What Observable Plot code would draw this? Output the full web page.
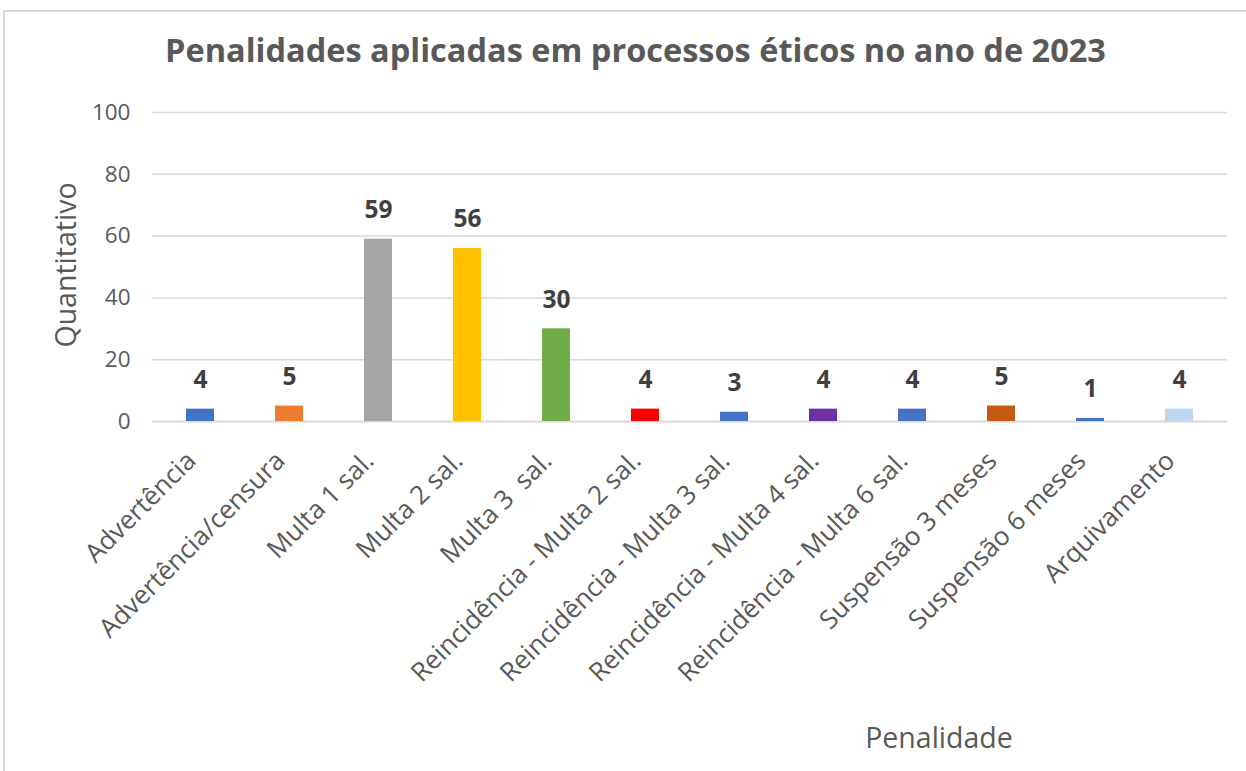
<!DOCTYPE html>
<html><head><meta charset="utf-8">
<script src="https://cdn.jsdelivr.net/npm/d3@7"></script>
<script src="https://cdn.jsdelivr.net/npm/@observablehq/plot@0.6"></script>
<style>
body{margin:0;background:#fff;font-family:"Open Sans",sans-serif;}
#wrap{position:relative;width:1246px;height:771px;overflow:hidden;background:#fff;}
#frame{position:absolute;left:3px;top:10px;width:1300px;height:800px;border-top:2px solid #d9d9d9;border-left:2px solid #d9d9d9;}
#title{position:absolute;left:0;top:28px;width:1271px;text-align:center;font-weight:700;font-size:32.5px;line-height:44px;color:#595959;}
#chart{position:absolute;left:0;top:85px;}
#ylab{position:absolute;left:65px;top:265px;transform:translate(-50%,-50%) rotate(-90deg);font-size:28.5px;color:#595959;white-space:nowrap;}
#xlab{position:absolute;left:939px;top:737px;transform:translate(-50%,-50%);font-size:28.5px;color:#595959;white-space:nowrap;}
svg text{white-space:pre;}
</style></head>
<body>
<div id="wrap">
<div id="frame"></div>
<div id="title">Penalidades aplicadas em processos éticos no ano de 2023</div>
<div id="chart"></div>
<div id="ylab">Quantitativo</div>
<div id="xlab">Penalidade</div>
</div>
<script>
const categories = ["Advertência","Advertência/censura","Multa 1 sal.","Multa 2 sal.","Multa 3  sal.","Reincidência - Multa 2 sal.","Reincidência - Multa 3 sal.","Reincidência - Multa 4 sal.","Reincidência - Multa 6 sal.","Suspensão 3 meses","Suspensão 6 meses","Arquivamento"];
const values = [4,5,59,56,30,4,3,4,4,5,1,4];
const colors = ["#4472C4","#ED7D31","#A5A5A5","#FFC000","#70AD47","#FF0000","#4472C4","#7030A0","#4472C4","#C55A11","#4472C4","#BDD7EE"];
const yTicks = [0,20,40,60,80,100];

const data = categories.map((c,i)=>({c, v: values[i], col: colors[i]}));

const chart = Plot.plot({
  width:1246, height:686,
  marginTop:27, marginBottom:350, marginLeft:152, marginRight:19,
  x:{domain:categories, paddingInner:0.69, paddingOuter:0.345, label:null},
  y:{domain:[0,100], label:null},
  color:{type:"identity"},
  style:{fontFamily:"Open Sans", background:"transparent"},
  marks:[
    Plot.gridY(yTicks.slice(1), {stroke:"#d9d9d9", strokeOpacity:1, strokeWidth:1.5}),
    Plot.ruleY([0], {stroke:"#d9d9d9", strokeWidth:2}),
    Plot.barY(data, {x:"c", y:"v", fill:"col"}),
    Plot.text(data, {x:"c", y:"v", text:d=>String(d.v), dy:-21, lineAnchor:"bottom", fontWeight:"bold", fontSize:24.5, fill:"#404040"}),
    Plot.axisY(yTicks, {tickSize:0, tickPadding:22, fontSize:22.5, fill:"#595959", label:null}),
    Plot.axisX({tickSize:0, tickRotate:-45, tickPadding:35, dx:-9, fontSize:26, fill:"#595959", label:null})
  ]
});
document.getElementById("chart").appendChild(chart);
</script>
</body></html>
